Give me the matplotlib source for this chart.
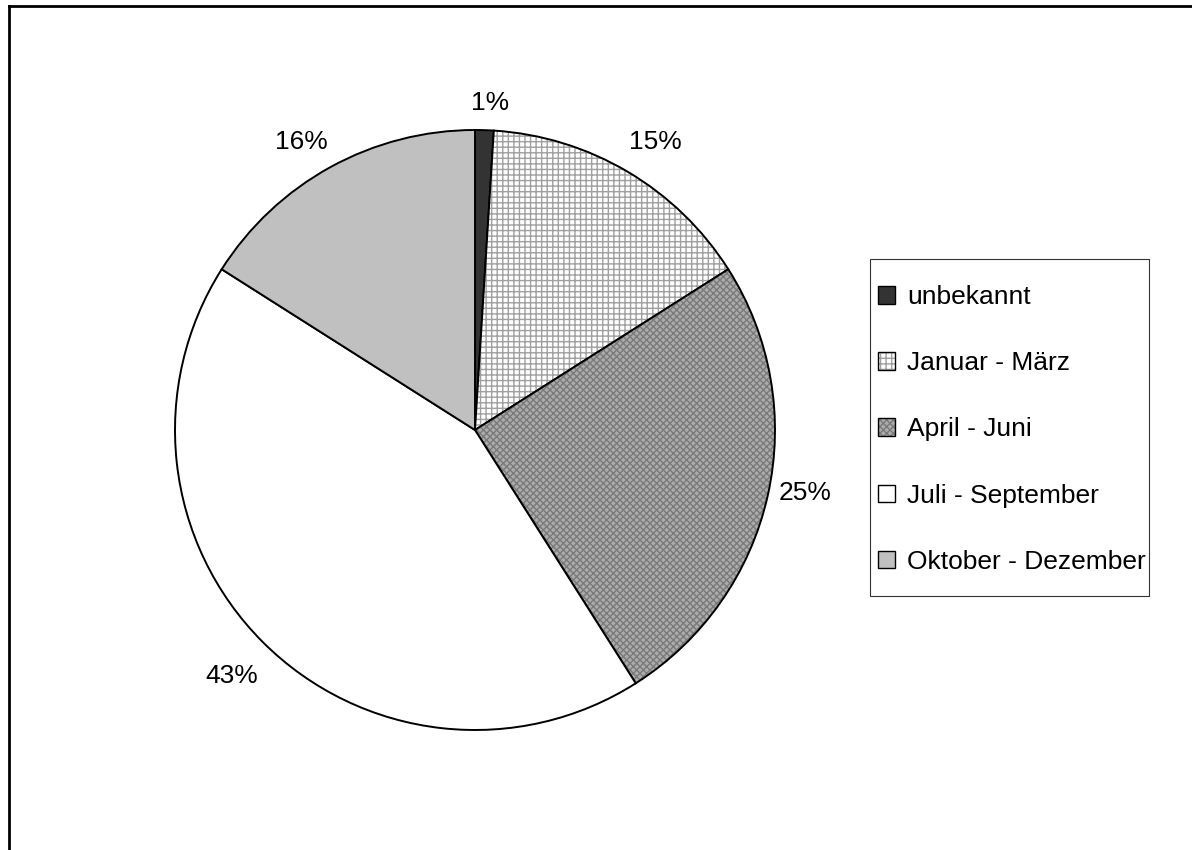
import matplotlib
matplotlib.use("Agg")
import matplotlib.pyplot as plt
from matplotlib.lines import Line2D
from matplotlib.patches import Rectangle

plt.rcParams['font.family'] = ['Liberation Sans', 'DejaVu Sans']
plt.rcParams['hatch.linewidth'] = 1.0

# data
labels = ['unbekannt', 'Januar - März', 'April - Juni', 'Juli - September', 'Oktober - Dezember']
shares = [1, 15, 25, 43, 16]

# styles
face_colors = ['#333333', '#ffffff', '#acacac', '#ffffff', '#c0c0c0']
hatches = [None, '+++', 'xxxxx', None, None]
hatch_colors = ['#333333', '#a0a0a0', '#7a7a7a', '#ffffff', '#c0c0c0']

W, H = 1192, 850
fig = plt.figure(figsize=(W / 100, H / 100), dpi=100)
ax = fig.add_axes([175 / W, 120 / H, 600 / W, 600 / H])

wedges, texts, autotexts = ax.pie(shares, startangle=90, counterclock=False,
                                  colors=face_colors, autopct='%1.0f%%',
                                  pctdistance=1.12, radius=1.0,
                                  textprops={'fontsize': 19})
for w, h, hc in zip(wedges, hatches, hatch_colors):
    w.set_edgecolor('black')
    w.set_linewidth(1.4)
    if h:
        w.set_hatch(h)
    w._hatch_color = matplotlib.colors.to_rgba(hc)

# nudge labels to where the original program put them
label_pos = [(0.05, 1.09), (0.60, 0.96), (1.10, -0.21), (-0.81, -0.82), (-0.58, 0.96)]
for t, (x, y) in zip(autotexts, label_pos):
    t.set_position((x, y))
    t.set_ha('center')
    t.set_va('center')

ax.set_xlim(-1, 1)
ax.set_ylim(-1, 1)
ax.set_aspect('equal')
ax.axis('off')

leg = fig.legend(wedges, labels, loc='upper left',
                 bbox_to_anchor=(878 / W, 1 - 285 / H),
                 borderaxespad=0, fontsize=19, frameon=False,
                 labelspacing=1.6, borderpad=0,
                 handlelength=0.65, handleheight=0.65, handletextpad=0.45)
for h in leg.legend_handles:
    h.set_linewidth(1.0)

# legend box: tighter at the sides than at top/bottom, like the original
fig.canvas.draw()
bb = leg.get_window_extent()
box = Rectangle((bb.x0 - 8, bb.y0 - 22), bb.width + 11, bb.height + 48,
                transform=None, fill=False, edgecolor='#333333', lw=0.8)
fig.add_artist(box)

# outer frame (only top and left visible)
fig.add_artist(Line2D([9 / W, 1.0], [1 - 6 / H, 1 - 6 / H], color='black', lw=2,
                      transform=fig.transFigure))
fig.add_artist(Line2D([9 / W, 9 / W], [0.0, 1 - 6 / H], color='black', lw=2,
                      transform=fig.transFigure))

fig.savefig('out.png', dpi=100)
